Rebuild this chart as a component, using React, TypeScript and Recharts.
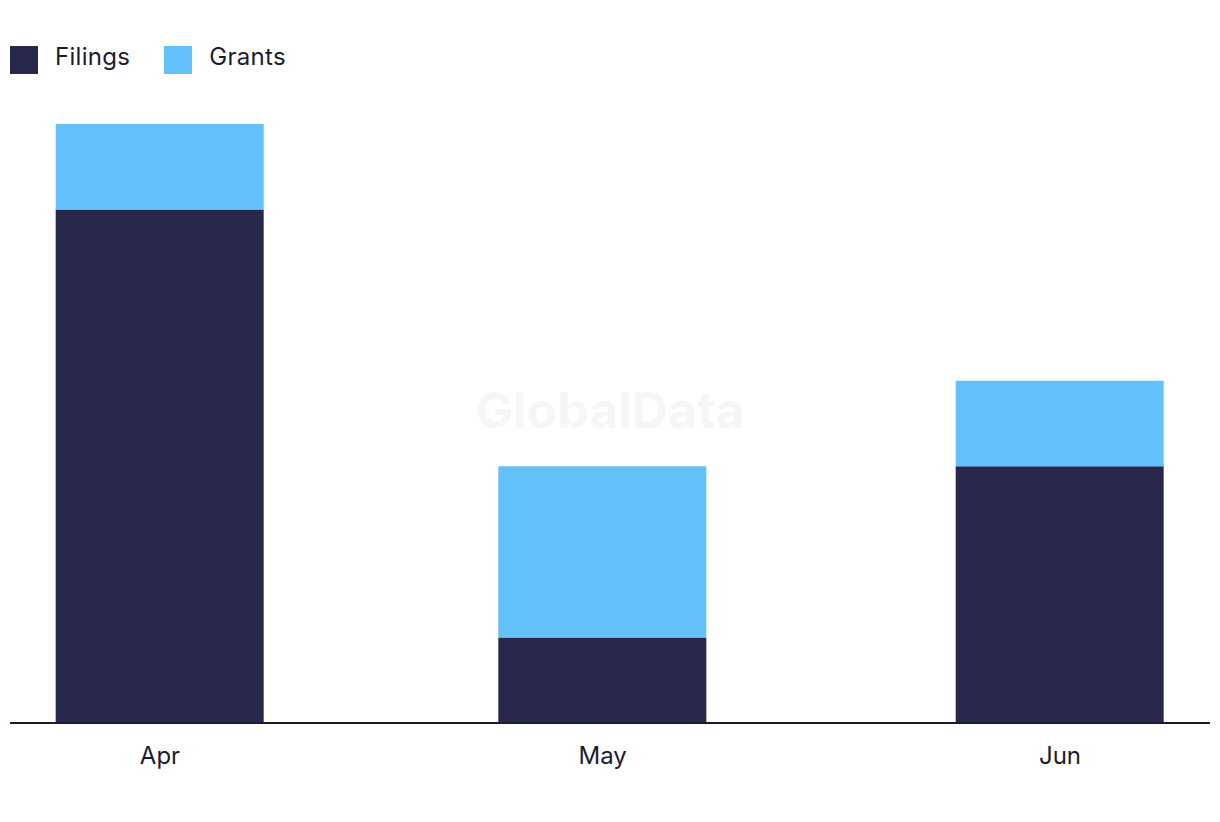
import { Bar, BarChart, XAxis, YAxis } from "recharts";

const months = ["Apr", "May", "Jun"];
// days since 1 Apr, the x axis is a time scale
const monthDays = [0, 30, 61];
const filings = [6, 1, 3];
const grants = [1, 2, 1];

const colors = { filings: "#27284c", grants: "#62c1f9" };
const textColor = "#1b1b30";
const font = "Inter, 'Noto Sans', sans-serif";

const data = months.map((month, i) => ({
  month,
  day: monthDays[i],
  Filings: filings[i],
  Grants: grants[i]
}));

function LegendRow() {
  const items = [
    { name: "Filings", color: colors.filings },
    { name: "Grants", color: colors.grants }
  ];
  return (
    <div style={{ position: "absolute", left: 10, top: 46, display: "flex", fontFamily: font, fontSize: 24, color: textColor }}>
      {items.map((item) => (
        <div key={item.name} style={{ display: "flex", alignItems: "center", marginRight: 34 }}>
          <span style={{ width: 28, height: 28, background: item.color, display: "inline-block", marginRight: 17 }} />
          <span style={{ lineHeight: "28px", position: "relative", top: -3, letterSpacing: 0.3 }}>{item.name}</span>
        </div>
      ))}
    </div>
  );
}

export default function App() {
  return (
    <div style={{ position: "absolute", left: 0, top: 0, width: 1220, height: 822, background: "#fff" }}>
      <div
        style={{
          position: "absolute",
          left: 0,
          width: 1220,
          top: 380,
          textAlign: "center",
          fontFamily: font,
          fontWeight: 700,
          fontSize: 50,
          color: "#f6f6f6"
        }}
      >
        GlobalData
      </div>
      <BarChart
        width={1220}
        height={822}
        data={data}
        margin={{ top: 124, right: 10, bottom: 39, left: 10 }}
        style={{ position: "absolute", left: 0, top: 0 }}
      >
        <XAxis
          dataKey="day"
          type="number"
          domain={[0, 61]}
          ticks={monthDays}
          tickFormatter={(v: number) => months[monthDays.indexOf(v)] ?? ""}
          padding={{ left: 150, right: 150 }}
          height={60}
          tickLine={false}
          tickSize={0}
          tickMargin={24}
          axisLine={{ stroke: textColor, strokeWidth: 2 }}
          tick={{ fill: textColor, fontSize: 24, fontFamily: font }}
        />
        <YAxis hide domain={[0, 7]} />
        <Bar dataKey="Filings" stackId="a" fill={colors.filings} barSize={208} isAnimationActive={false} />
        <Bar dataKey="Grants" stackId="a" fill={colors.grants} barSize={208} isAnimationActive={false} />
      </BarChart>
      <LegendRow />
    </div>
  );
}
